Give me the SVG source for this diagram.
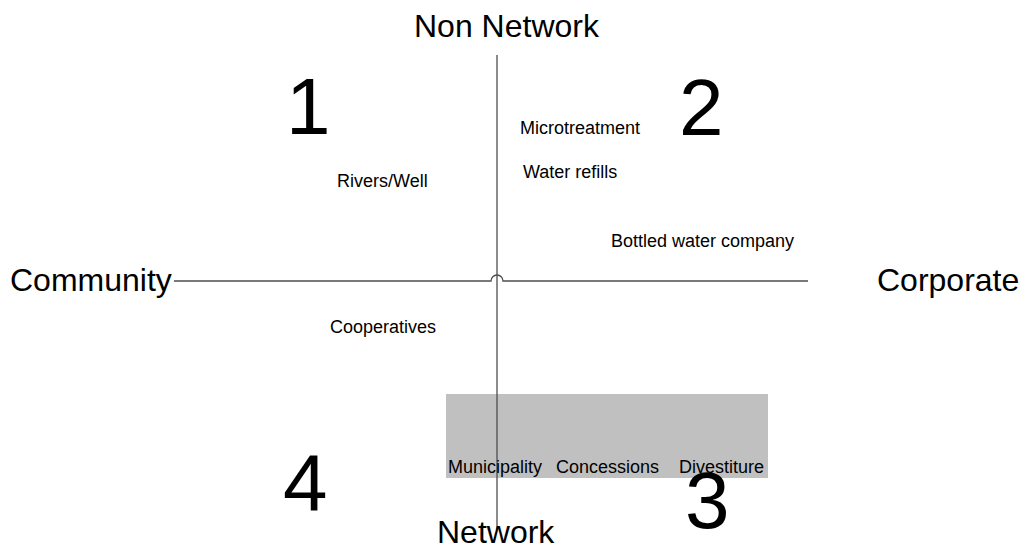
<svg xmlns="http://www.w3.org/2000/svg" width="1024" height="548" viewBox="0 0 1024 548">
  <style>
    text { font-family: "Liberation Sans", Arial, sans-serif; fill: #000; }
    .axis-label { font-size: 32px; }
    .quad { font-size: 80px; }
    .item { font-size: 18px; }
    .axis { stroke: #4d4d4d; stroke-width: 1.3; fill: none; }
  </style>
  <rect width="1024" height="548" fill="#fff"/>

  <!-- shaded band for network providers -->
  <g id="network-band">
    <rect x="446" y="394" width="322" height="84" fill="#c0c0c0"/>
  </g>

  <g id="connectors">
    <line class="axis" x1="497" y1="55" x2="497" y2="530"/>
    <path class="axis" d="M174 281 H491 A6 6 0 0 1 503 281 H808"/>
  </g>

  <g id="axis-top"><text class="axis-label" x="414" y="37">Non Network</text></g>
  <g id="axis-bottom"><text class="axis-label" x="437" y="543">Network</text></g>
  <g id="axis-left"><text class="axis-label" x="10" y="291">Community</text></g>
  <g id="axis-right"><text class="axis-label" x="877" y="291">Corporate</text></g>

  <g id="q1"><text class="quad" x="286" y="134">1</text></g>
  <g id="q2"><text class="quad" x="679" y="135">2</text></g>
  <g id="q3"><text class="quad" x="685" y="528">3</text></g>
  <g id="q4"><text class="quad" x="283" y="510">4</text></g>

  <g id="microtreatment"><text class="item" x="520" y="134">Microtreatment</text></g>
  <g id="water-refills"><text class="item" x="523" y="178">Water refills</text></g>
  <g id="rivers-well"><text class="item" x="337" y="187">Rivers/Well</text></g>
  <g id="bottled-water"><text class="item" x="611" y="247">Bottled water company</text></g>
  <g id="cooperatives"><text class="item" x="330" y="333">Cooperatives</text></g>
  <g id="municipality"><text class="item" x="448" y="473">Municipality</text></g>
  <g id="concessions"><text class="item" x="556" y="473">Concessions</text></g>
  <g id="divestiture"><text class="item" x="679" y="473">Divestiture</text></g>
</svg>
